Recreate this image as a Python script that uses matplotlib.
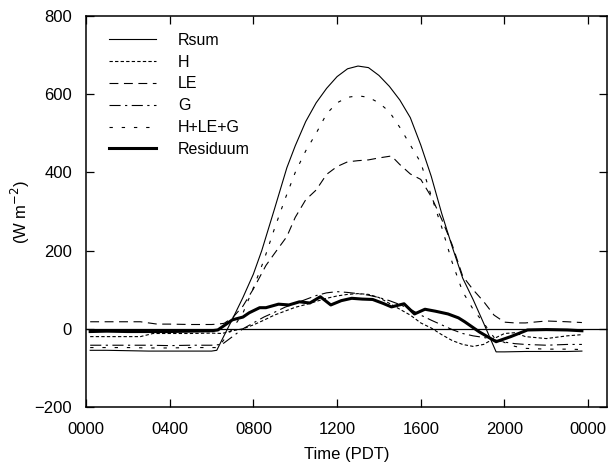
#!/usr/bin/env python3
"""Diurnal surface energy balance: Rsum, H, LE, G, their sum and the residuum."""

import matplotlib

matplotlib.use("Agg")
import matplotlib.pyplot as plt

plt.rcParams["font.family"] = ["Liberation Sans", "DejaVu Sans"]

# time in hours (PDT), values in W m-2
rsum_t = [0.2, 1, 2, 3, 4, 5, 6, 6.25, 6.5, 7, 7.5, 8, 8.4, 9, 9.6, 10, 10.5,
          11, 11.5, 12, 12.5, 13, 13.5, 14, 14.5, 15, 15.5, 16, 16.5, 17, 17.5,
          18, 18.5, 19, 19.6, 20, 21, 22, 23, 23.7]
rsum = [-55, -55, -56, -57, -57, -57, -57, -55, -28, 25, 80, 140, 200, 305, 412,
        468, 530, 578, 615, 645, 665, 672, 668, 648, 620, 585, 540, 470, 390,
        295, 210, 130, 75, 15, -59, -59, -58, -58, -58, -57]

le_t = [0.2, 1, 2, 2.6, 3.4, 4, 5, 6, 6.3, 6.6, 7, 7.5, 8, 8.6, 9, 9.6, 10,
        10.5, 11, 11.5, 12, 12.5, 13, 13.5, 14, 14.6, 15, 15.5, 16, 16.5, 17,
        17.5, 18, 18.5, 19, 19.5, 20, 20.5, 21, 22, 23, 23.7]
le = [18, 18, 18, 18, 12, 12, 11, 11, 12, 14, 28, 58, 102, 162, 192, 236, 285,
      330, 355, 395, 415, 427, 430, 432, 437, 442, 420, 396, 382, 338, 280, 215,
      135, 100, 70, 35, 17, 15, 15, 20, 18, 16]

h_t = [0.2, 1, 2, 2.6, 3.2, 4, 5, 6, 6.5, 7, 7.5, 8, 8.5, 9, 9.5, 10, 10.5, 11,
       11.5, 12, 12.5, 13, 13.5, 14, 14.5, 15, 15.5, 16, 16.5, 17, 17.5, 18,
       18.5, 19, 19.5, 20, 20.5, 21, 22, 23, 23.7]
h = [-20, -20, -20, -20, -12, -12, -12, -11, -12, -5, 0, 10, 22, 35, 45, 55, 62,
     70, 78, 84, 88, 90, 88, 80, 65, 50, 35, 15, 2, -15, -30, -40, -45, -40,
     -25, -12, -10, -20, -25, -18, -15]

g_t = [0.2, 1, 2, 3, 4, 5, 6, 6.5, 7, 7.5, 8, 8.5, 9, 9.5, 10, 10.5, 11, 11.5,
       12, 12.5, 13, 13.5, 14, 14.5, 15, 15.5, 16, 16.5, 17, 17.5, 18, 18.5,
       19, 19.5, 20, 20.5, 21, 22, 23, 23.7]
g = [-42, -42, -42, -42, -43, -42, -42, -40, -20, 0, 15, 30, 42, 55, 65, 75, 85,
     92, 95, 93, 90, 86, 80, 72, 62, 50, 35, 22, 10, -2, -12, -18, -22, -28,
     -34, -38, -40, -42, -40, -40]

sum_t = [0.2, 1, 2, 3, 4, 5, 6, 6.3, 7, 7.5, 8, 8.5, 9, 9.5, 10, 10.5, 11, 11.5,
         12, 12.5, 13, 13.5, 14, 14.5, 15, 15.5, 16, 16.5, 17, 17.5, 18, 18.5,
         19, 19.5, 20, 20.5, 21, 22, 23, 23.7]
hleg = [-48, -48, -48, -49, -49, -48, -48, -48, 0, 40, 105, 175, 255, 330, 400,
        455, 500, 550, 578, 592, 596, 592, 578, 555, 515, 470, 425, 340, 260,
        170, 95, 50, 15, -22, -35, -45, -50, -52, -52, -53]

res_t = [0.2, 1, 2, 3, 4, 5, 6, 6.3, 7, 7.5, 7.8, 8.3, 8.6, 9.2, 9.7, 10.2,
         10.7, 11.2, 11.7, 12.2, 12.7, 13.2, 13.7, 14.2, 14.6, 15.2, 15.7, 16.2,
         16.7, 17.3, 17.8, 18.1, 18.8, 19.6, 20.3, 21.1, 22, 23, 23.7]
res = [-7, -6, -7, -7, -7, -6, -5, -3, 23, 30, 41, 54, 54, 63, 61, 69, 66, 82,
       61, 72, 78, 76, 75, 65, 56, 64, 38, 50, 45, 38, 28, 18, -8, -33, -20, -3,
       -2, -3, -5]

tick_hours = [0, 4, 8, 12, 16, 20, 24]
tick_labels = ["0000", "0400", "0800", "1200", "1600", "2000", "0000"]
y_ticks = [-200, 0, 200, 400, 600, 800]


def main() -> None:
    fig = plt.figure(figsize=(6.08, 4.69), dpi=100)
    ax = fig.add_axes([86 / 608, 62 / 469, 521 / 608, 391 / 469])

    lw = 0.8
    ax.plot(rsum_t, rsum, color="black", lw=lw, label="Rsum")
    ax.plot(h_t, h, color="black", lw=lw, ls=(0, (3, 2)), label="H")
    ax.plot(le_t, le, color="black", lw=lw, ls=(0, (8, 5)), label="LE")
    ax.plot(g_t, g, color="black", lw=lw, ls=(0, (10, 4, 2, 4)), label="G")
    ax.plot(sum_t, hleg, color="black", lw=lw, ls=(0, (3, 8)), label="H+LE+G")
    ax.plot(res_t, res, color="black", lw=2.2, label="Residuum")
    ax.axhline(0, color="black", lw=0.9)

    ax.set_xlim(0, 24.9)
    ax.set_ylim(-200, 800)
    ax.set_xticks(tick_hours)
    ax.set_xticklabels(tick_labels)
    ax.set_yticks(y_ticks)
    ax.tick_params(direction="in", length=6, width=0.9, labelsize=12,
                   top=True, right=True)
    ax.tick_params(axis="x", pad=11)
    ax.tick_params(axis="y", pad=10)
    for spine in ax.spines.values():
        spine.set_linewidth(1.1)

    ax.set_xlabel("Time (PDT)", fontsize=12, labelpad=7)
    ax.set_ylabel("(W m$^{-2}$)", fontsize=12, labelpad=2)

    ax.legend(loc="upper left", frameon=False, fontsize=11.5,
              handlelength=2.9, handletextpad=1.4, labelspacing=0.43,
              borderaxespad=0.4, bbox_to_anchor=(0.02, 0.99))

    fig.savefig("out.png", dpi=100)


if __name__ == "__main__":
    main()
